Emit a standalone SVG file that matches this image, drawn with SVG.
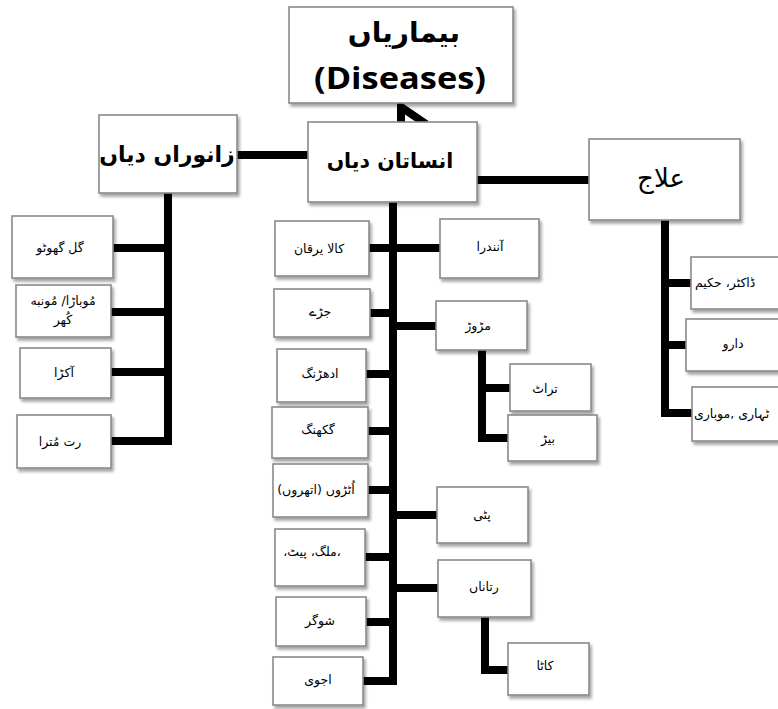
<svg xmlns="http://www.w3.org/2000/svg" width="778" height="709" viewBox="0 0 778 709">
  <defs>
    <filter id="shadow" x="-10%" y="-10%" width="130%" height="140%">
      <feDropShadow dx="2" dy="3" stdDeviation="1.6" flood-color="#000" flood-opacity="0.35"/>
    </filter>
    <style>
      .box { fill: #ffffff; stroke: #8a8a8a; stroke-width: 1.6; filter: url(#shadow); }
      .link { fill: none; stroke: #000; stroke-width: 8; stroke-linejoin: miter; stroke-linecap: butt; }
      .ur { font-family: "DejaVu Sans", sans-serif; font-size: 12.5px; fill: #000; text-anchor: middle; }
      .urh { font-family: "DejaVu Sans", sans-serif; font-size: 22px; font-weight: bold; fill: #000; text-anchor: middle; }
      .en { font-family: "Open Sans", "Liberation Sans", sans-serif; font-size: 31px; font-weight: bold; fill: #000; text-anchor: middle; }
    </style>
  </defs>
  <rect width="778" height="709" fill="#ffffff"/>

  <!-- connectors -->
  <g id="connectors">
    <!-- arrow into the root box -->
    <path class="link" d="M401,124 V107 L426,124"/>
    <!-- top level -->
    <path class="link" d="M236,155 H309"/>
    <path class="link" d="M476,180 H590"/>
    <!-- animal diseases -->
    <path class="link" d="M168,193 V441 H110"/>
    <path class="link" d="M112,248 H168"/>
    <path class="link" d="M110,312 H168"/>
    <path class="link" d="M110,372 H168"/>
    <!-- human diseases spine -->
    <path class="link" d="M393,201 V681 H362"/>
    <path class="link" d="M368,248 H440"/>
    <path class="link" d="M369,313 H393"/>
    <path class="link" d="M393,326 H437"/>
    <path class="link" d="M365,374 H393"/>
    <path class="link" d="M367,431 H393"/>
    <path class="link" d="M367,490 H393"/>
    <path class="link" d="M393,515 H438"/>
    <path class="link" d="M364,557 H393"/>
    <path class="link" d="M393,588 H439"/>
    <path class="link" d="M365,622 H393"/>
    <!-- sub branches -->
    <path class="link" d="M482,349 V438 H509"/>
    <path class="link" d="M482,388 H511"/>
    <path class="link" d="M485,616 V670 H509"/>
    <!-- treatment -->
    <path class="link" d="M665,219 V413 H693"/>
    <path class="link" d="M665,283 H692"/>
    <path class="link" d="M665,345 H687"/>
  </g>

  <!-- root -->
  <g id="diseases">
    <rect class="box" x="289" y="7" width="224" height="96"/>
    <text class="urh" x="404" y="42" style="font-size:28px">بیماریاں</text>
    <text class="en" x="400" y="89" textLength="172" lengthAdjust="spacingAndGlyphs">(Diseases)</text>
  </g>

  <g id="animal">
    <rect class="box" x="99" y="115" width="138" height="78"/>
    <text class="urh" x="167" y="162">زانوراں دیاں</text>
  </g>

  <g id="human">
    <rect class="box" x="308" y="122" width="169" height="80"/>
    <text class="urh" x="390" y="168" style="font-size:20.5px">انساتان دیاں</text>
  </g>

  <g id="treatment">
    <rect class="box" x="589" y="139" width="151" height="81"/>
    <text class="ur" x="661" y="187" style="font-size:26px">علاج</text>
  </g>

  <!-- animal disease leaves -->
  <g id="a1"><rect class="box" x="12" y="216" width="101" height="62"/><text class="ur" x="60" y="252">گل گھوٹو</text></g>
  <g id="a2"><rect class="box" x="16" y="285" width="95" height="52"/><text class="ur" x="63" y="305">مُوباڑا/ مُونبه</text><text class="ur" x="63" y="324">کُھر</text></g>
  <g id="a3"><rect class="box" x="20" y="348" width="91" height="50"/><text class="ur" x="64" y="377">آکڑا</text></g>
  <g id="a4"><rect class="box" x="17" y="415" width="94" height="53"/><text class="ur" x="60" y="446">رت مُترا</text></g>

  <!-- human disease leaves, left column -->
  <g id="h1"><rect class="box" x="275" y="221" width="94" height="55"/><text class="ur" x="319" y="253">کالا یرقان</text></g>
  <g id="h2"><rect class="box" x="274" y="289" width="96" height="48"/><text class="ur" x="320" y="316">جڑے</text></g>
  <g id="h3"><rect class="box" x="277" y="349" width="89" height="53"/><text class="ur" x="320" y="378">ادھڑنگ</text></g>
  <g id="h4"><rect class="box" x="272" y="407" width="96" height="51"/><text class="ur" x="318" y="434">گکھنگ</text></g>
  <g id="h5"><rect class="box" x="273" y="464" width="95" height="53"/><text class="ur" x="316" y="494">اُٹڑوں (اتھروں)</text></g>
  <g id="h6"><rect class="box" x="275" y="529" width="90" height="57"/><text class="ur" x="312" y="556">،ملگ، پیٹ،</text></g>
  <g id="h7"><rect class="box" x="276" y="597" width="90" height="49"/><text class="ur" x="320" y="625">شوگر</text></g>
  <g id="h8"><rect class="box" x="273" y="657" width="90" height="48"/><text class="ur" x="318" y="684">اجوی</text></g>

  <!-- human disease leaves, right column -->
  <g id="h9"><rect class="box" x="440" y="219" width="99" height="59"/><text class="ur" x="490" y="251">آنندرا</text></g>
  <g id="h10"><rect class="box" x="436" y="301" width="91" height="49"/><text class="ur" x="478" y="330">مڑوڑ</text></g>
  <g id="h11"><rect class="box" x="510" y="364" width="81" height="47"/><text class="ur" x="545" y="393">تراٹ</text></g>
  <g id="h12"><rect class="box" x="508" y="415" width="89" height="46"/><text class="ur" x="548" y="443">بیڑ</text></g>
  <g id="h13"><rect class="box" x="437" y="487" width="91" height="56"/><text class="ur" x="482" y="519">پٹی</text></g>
  <g id="h14"><rect class="box" x="438" y="560" width="93" height="57"/><text class="ur" x="484" y="591">رتاناں</text></g>
  <g id="h15"><rect class="box" x="508" y="643" width="81" height="52"/><text class="ur" x="545" y="670">کاٹا</text></g>

  <!-- treatment leaves -->
  <g id="t1"><rect class="box" x="691" y="257" width="95" height="52"/><text class="ur" x="695" y="287" style="text-anchor:start">ڈاکٹر، حکیم</text></g>
  <g id="t2"><rect class="box" x="686" y="319" width="100" height="52"/><text class="ur" x="733" y="348">دارو</text></g>
  <g id="t3"><rect class="box" x="692" y="387" width="94" height="54"/><text class="ur" x="694" y="418" style="text-anchor:start">ٹہاری ,موباری</text></g>
</svg>
